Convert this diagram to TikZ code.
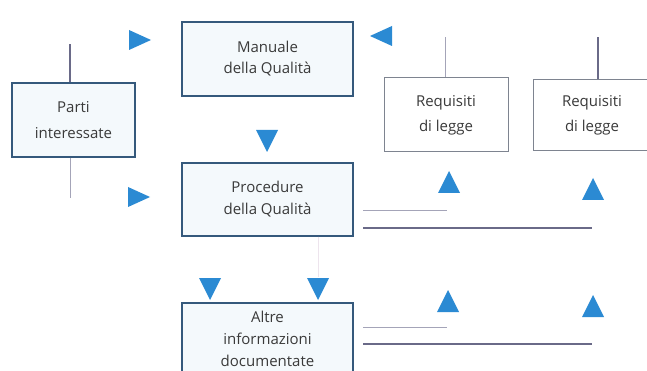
\documentclass[tikz,border=0pt]{standalone}
\usepackage{fontspec}
\setmainfont{Open Sans}
\definecolor{arrowblue}{HTML}{2B8AD3}
\definecolor{boxedge}{HTML}{35597C}
\definecolor{boxfill}{HTML}{F4F9FC}
\definecolor{reqedge}{HTML}{7E8490}
\definecolor{lightline}{HTML}{A4A4B8}
\definecolor{darkline}{HTML}{6A6A88}
\definecolor{faintline}{HTML}{EDE4ED}
\definecolor{txt}{HTML}{3A3A3A}
\tikzset{
  mainbox/.style={draw=boxedge, line width=1.3pt, fill=boxfill, minimum width=171pt,
    minimum height=74pt, align=center, text=txt, inner sep=0pt},
  reqbox/.style={draw=reqedge, line width=1pt, fill=white, minimum width=124pt,
    minimum height=74pt, align=center, text=txt, inner sep=0pt},
  lbl/.style={font=\fontsize{15}{#1}\selectfont},
  thinl/.style={draw=lightline, line width=1pt},
  thickl/.style={draw=darkline, line width=1.2pt},
  triU/.pic={\fill[arrowblue] (-11,11) -- (0,-11) -- (11,11) -- cycle;},
  triD/.pic={\fill[arrowblue] (-11,-11) -- (0,11) -- (11,-11) -- cycle;},
  triR/.pic={\fill[arrowblue] (-11,-10) -- (11,0) -- (-11,10) -- cycle;},
  triL/.pic={\fill[arrowblue] (11,-10) -- (-11,0) -- (11,10) -- cycle;},
}
\begin{document}
\begin{tikzpicture}[x=1pt,y=-1pt]
\clip (0,0) rectangle (647,371);
\fill[white] (0,0) rectangle (647,371);

% boxes
\node[mainbox, lbl=21] (man) at (267.5,59) {Manuale\\della Qualità};
\node[mainbox, lbl=22, minimum height=73pt] (proc) at (267.5,199.5) {Procedure\\della Qualità};
\node[mainbox, lbl=22, minimum height=72pt] (altre) at (267.5,339) {Altre\\informazioni\\documentate};
\node[mainbox, lbl=26, minimum width=123pt] (parti) at (73.5,120) {Parti\\interessate};
\node[reqbox, lbl=25] (req1) at (446,115) {Requisiti\\di legge};
\node[reqbox, lbl=25, minimum width=118pt, minimum height=71pt] (req2) at (592,115) {Requisiti\\di legge};

% free line ends
\coordinate (pTop) at (70,44);
\coordinate (pBot) at (70,198);
\coordinate (r1Top) at (445,37);
\coordinate (r2Top) at (598,37);
\coordinate (h1a) at (363,211); \coordinate (h1b) at (447,211);
\coordinate (h2a) at (363,228); \coordinate (h2b) at (592,228);
\coordinate (h3a) at (363,327); \coordinate (h3b) at (447,327);
\coordinate (h4a) at (363,344); \coordinate (h4b) at (592,344);
\coordinate (pv) at (318,277);

% connectors
\draw[thickl] (parti.north -| pTop) -- (pTop);
\draw[thinl] (parti.south -| pBot) -- (pBot);
\draw[thinl] (req1.north -| r1Top) -- (r1Top);
\draw[thickl] (req2.north -| r2Top) -- (r2Top);
\draw[thinl] (h1a) -- (h1b);
\draw[thickl] (h2a) -- (h2b);
\draw[thinl] (h3a) -- (h3b);
\draw[thickl] (h4a) -- (h4b);
\draw[draw=faintline, line width=1pt] (proc.south -| pv) -- (pv);

% arrowheads
\pic at (140,40) {triR};
\pic at (139,197) {triR};
\pic at (381,36) {triL};
\pic at (267,141) {triD};
\pic at (210,289) {triD};
\pic at (318,289) {triD};
\pic at (449,182) {triU};
\pic at (593,189) {triU};
\pic at (448,301) {triU};
\pic at (593,306) {triU};
\end{tikzpicture}
\end{document}
